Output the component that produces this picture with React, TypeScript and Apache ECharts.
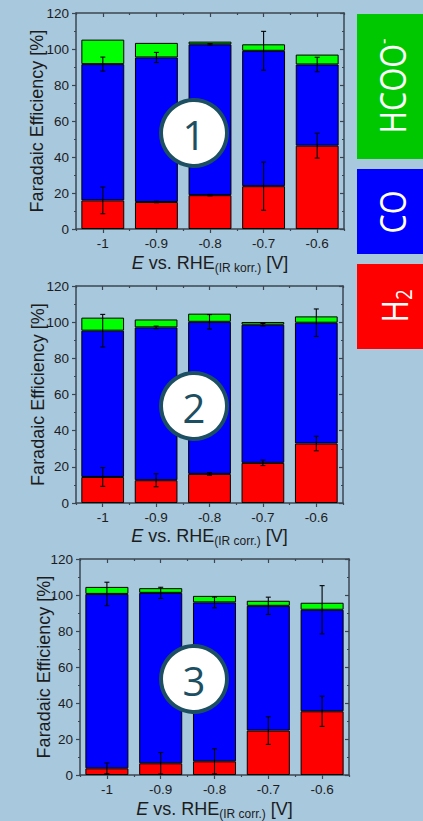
import React, { useEffect, useRef } from "react";
import * as echarts from "echarts";

// Potentials (V vs. RHE) shared by all three panels
const CATEGORIES = ["-1", "-0.9", "-0.8", "-0.7", "-0.6"];

// Panel 1 – Faradaic efficiencies [%]
const H2_1 = [15.9, 15.0, 18.8, 23.8, 46.3];
const CO_1 = [75.7, 80.3, 83.8, 75.2, 45.1];
const HCOO_1 = [13.6, 8.1, 1.5, 3.6, 5.5];
const H2_ERR_1 = [7.4, 0.4, 0.4, 13.4, 6.9];
const CO_ERR_1 = [3.9, 2.8, 0.4, 10.8, 4.0];

// Panel 2
const H2_2 = [14.4, 12.6, 16.1, 22.2, 32.9];
const CO_2 = [80.9, 84.5, 84.1, 76.4, 66.8];
const HCOO_2 = [7.2, 4.4, 4.5, 1.5, 3.5];
const H2_ERR_2 = [5.2, 3.6, 0.7, 1.5, 4.0];
const CO_ERR_2 = [9.0, 0.7, 4.0, 0.7, 7.6];

// Panel 3
const H2_3 = [3.7, 6.5, 7.6, 24.7, 35.4];
const CO_3 = [96.9, 94.7, 88.3, 69.3, 56.4];
const HCOO_3 = [3.9, 2.6, 3.6, 2.8, 3.9];
const H2_ERR_3 = [3.0, 6.0, 7.0, 7.7, 8.4];
const CO_ERR_3 = [6.5, 3.1, 3.0, 4.8, 13.4];

const Y_TICKS = { min: 0, max: 120, interval: 20 };
const X_SUBSCRIPTS = ["(IR korr.)", "(IR corr.)", "(IR corr.)"];
const PANEL_NUMBERS = ["1", "2", "3"];

const PANELS = [
  { h2: H2_1, co: CO_1, hcoo: HCOO_1, h2Err: H2_ERR_1, coErr: CO_ERR_1 },
  { h2: H2_2, co: CO_2, hcoo: HCOO_2, h2Err: H2_ERR_2, coErr: CO_ERR_2 },
  { h2: H2_3, co: CO_3, hcoo: HCOO_3, h2Err: H2_ERR_3, coErr: CO_ERR_3 },
];

const GRIDS = [
  { left: 76, top: 13, width: 268, height: 216 },
  { left: 76, top: 286, width: 267, height: 217 },
  { left: 80, top: 559, width: 269, height: 217 },
];
const Y_NAME_GAPS = [30, 29, 27];
const X_NAME_GAPS = [23, 22, 23];
const CIRCLES = [
  { cx: 194, cy: 133 },
  { cx: 194, cy: 406 },
  { cx: 194, cy: 679 },
];

const BG = "#a8c8dd";
const FRAME = "#3c4650";
const TEXT = "#1c1c1c";
const BADGE = "#1d4f62";
const FONT = "'Liberation Sans', Arial, sans-serif";

export default function App() {
  const ref = useRef<HTMLDivElement>(null);

  useEffect(() => {
    if (!ref.current) return;
    const chart = echarts.init(ref.current, undefined, { renderer: "svg" });

    const xAxis: any[] = [];
    const yAxis: any[] = [];
    const series: any[] = [];
    const graphic: any[] = [];

    PANELS.forEach((p, g) => {
      const base = xAxis.length;
      // bottom axis: labels + ticks at category centres
      xAxis.push({
        type: "category",
        gridIndex: g,
        data: CATEGORIES,
        position: "bottom",
        axisLine: { show: true, lineStyle: { color: FRAME, width: 1.5 } },
        axisTick: { show: true, alignWithLabel: true, length: 4, lineStyle: { color: FRAME, width: 1.2 } },
        axisLabel: { color: TEXT, fontSize: 13.5, fontFamily: FONT, margin: 7 },
        splitLine: { show: false },
        name: `{i|E} vs. RHE{s|${X_SUBSCRIPTS[g]}} [V]`,
        nameLocation: "middle",
        nameGap: X_NAME_GAPS[g],
        nameMoveOverlap: false,
        nameTextStyle: {
          color: TEXT,
          fontSize: 18,
          fontFamily: FONT,
          rich: {
            i: { fontStyle: "italic", fontSize: 18, color: TEXT, fontFamily: FONT },
            s: { fontSize: 12, color: TEXT, fontFamily: FONT, padding: [10, 0, 0, 0] },
          },
        },
      });
      // bottom axis: short ticks at category boundaries
      xAxis.push({
        type: "category",
        gridIndex: g,
        data: CATEGORIES,
        position: "bottom",
        axisLine: { show: false },
        axisTick: { show: true, length: 2, lineStyle: { color: FRAME, width: 1.2 } },
        axisLabel: { show: false },
        splitLine: { show: false },
      });
      // top frame with inward ticks
      xAxis.push({
        type: "category",
        gridIndex: g,
        data: CATEGORIES,
        position: "top",
        axisLine: { show: true, lineStyle: { color: FRAME, width: 1.5 } },
        axisTick: { show: true, inside: true, alignWithLabel: true, length: 4, lineStyle: { color: FRAME, width: 1.2 } },
        axisLabel: { show: false },
        splitLine: { show: false },
      });
      xAxis.push({
        type: "category",
        gridIndex: g,
        data: CATEGORIES,
        position: "top",
        axisLine: { show: false },
        axisTick: { show: true, inside: true, length: 2, lineStyle: { color: FRAME, width: 1.2 } },
        axisLabel: { show: false },
        splitLine: { show: false },
      });

      const yBase = yAxis.length;
      yAxis.push({
        type: "value",
        gridIndex: g,
        position: "left",
        ...Y_TICKS,
        axisLine: { show: true, lineStyle: { color: FRAME, width: 1.5 } },
        axisTick: { show: true, length: 4, lineStyle: { color: FRAME, width: 1.2 } },
        minorTick: { show: true, splitNumber: 2, length: 2, lineStyle: { color: FRAME, width: 1.2 } },
        axisLabel: { color: TEXT, fontSize: 13.5, fontFamily: FONT, margin: 7 },
        splitLine: { show: false },
        name: "Faradaic Efficiency [%]",
        nameLocation: "middle",
        nameGap: Y_NAME_GAPS[g],
        nameMoveOverlap: false,
        nameTextStyle: { color: TEXT, fontSize: 18, fontFamily: FONT },
      });
      yAxis.push({
        type: "value",
        gridIndex: g,
        position: "right",
        ...Y_TICKS,
        axisLine: { show: true, lineStyle: { color: FRAME, width: 1.5 } },
        axisTick: { show: true, inside: true, length: 4, lineStyle: { color: FRAME, width: 1.2 } },
        minorTick: { show: true, splitNumber: 2, length: 2, lineStyle: { color: FRAME, width: 1.2 } },
        axisLabel: { show: false },
        splitLine: { show: false },
      });

      const barCommon = {
        type: "bar",
        xAxisIndex: base,
        yAxisIndex: yBase,
        stack: "fe" + g,
        barWidth: "80%",
      };
      series.push({
        ...barCommon,
        name: "H2",
        data: p.h2,
        itemStyle: { color: "#ff0000", borderColor: "#000", borderWidth: 1 },
      });
      series.push({
        ...barCommon,
        name: "CO",
        data: p.co,
        itemStyle: { color: "#0000ff", borderColor: "#000", borderWidth: 1 },
      });
      series.push({
        ...barCommon,
        name: "HCOO-",
        data: p.hcoo,
        itemStyle: { color: "#00ff00", borderColor: "#000", borderWidth: 1 },
      });

      // error bars at the top of the H2 and CO segments
      const errData: number[][] = [];
      CATEGORIES.forEach((_, i) => {
        errData.push([i, p.h2[i], p.h2Err[i]]);
        errData.push([i, p.h2[i] + p.co[i], p.coErr[i]]);
      });
      series.push({
        type: "custom",
        name: "err" + g,
        xAxisIndex: base,
        yAxisIndex: yBase,
        data: errData,
        encode: { x: 0, y: 1 },
        z: 10,
        renderItem: (params: any, api: any) => {
          const x = api.value(0);
          const v = api.value(1);
          const e = api.value(2);
          const hi = api.coord([x, v + e]);
          const lo = api.coord([x, v - e]);
          const hw = 2.5;
          const st = { stroke: "#000", lineWidth: 1.1 };
          return {
            type: "group",
            children: [
              { type: "line", shape: { x1: hi[0], y1: hi[1], x2: lo[0], y2: lo[1] }, style: st },
              { type: "line", shape: { x1: hi[0] - hw, y1: hi[1], x2: hi[0] + hw, y2: hi[1] }, style: st },
              { type: "line", shape: { x1: lo[0] - hw, y1: lo[1], x2: lo[0] + hw, y2: lo[1] }, style: st },
            ],
          };
        },
      });

      // numbered badge
      graphic.push({
        type: "circle",
        z: 100,
        shape: { cx: CIRCLES[g].cx, cy: CIRCLES[g].cy, r: 33 },
        style: { fill: "#ffffff", stroke: BADGE, lineWidth: 4 },
      });
      graphic.push({
        type: "text",
        z: 101,
        x: CIRCLES[g].cx,
        y: CIRCLES[g].cy + 1,
        style: {
          text: PANEL_NUMBERS[g],
          fill: BADGE,
          fontSize: 40,
          fontFamily: "'Open Sans', 'Noto Sans', sans-serif",
          align: "center",
          verticalAlign: "middle",
        },
      });
    });

    // product key on the right
    const keyFont = "'Open Sans', 'Noto Sans', sans-serif";
    graphic.push(
      { type: "rect", z: 50, shape: { x: 357, y: 14, width: 70, height: 145 }, style: { fill: "#00c800" } },
      { type: "rect", z: 50, shape: { x: 357, y: 169, width: 70, height: 85 }, style: { fill: "#0000ff" } },
      { type: "rect", z: 50, shape: { x: 357, y: 264, width: 70, height: 85 }, style: { fill: "#ff0000" } },
      {
        type: "text",
        z: 51,
        x: 392,
        y: 86,
        rotation: Math.PI / 2,
        scaleX: 0.85,
        style: {
          text: "{a|HCOO}{b|-}",
          align: "center",
          verticalAlign: "middle",
          rich: {
            a: { fontSize: 36, fill: "#fff", fontFamily: keyFont },
            b: { fontSize: 20, fill: "#fff", fontFamily: keyFont, padding: [0, 0, 20, 0] },
          },
        },
      },
      {
        type: "text",
        z: 51,
        x: 392,
        y: 212,
        rotation: Math.PI / 2,
        scaleX: 0.85,
        style: {
          text: "CO",
          fill: "#fff",
          fontSize: 36,
          fontFamily: keyFont,
          align: "center",
          verticalAlign: "middle",
        },
      },
      {
        type: "text",
        z: 51,
        x: 394,
        y: 306,
        rotation: Math.PI / 2,
        scaleX: 0.85,
        style: {
          text: "{a|H}{b|2}",
          align: "center",
          verticalAlign: "middle",
          rich: {
            a: { fontSize: 36, fill: "#fff", fontFamily: keyFont },
            b: { fontSize: 22, fill: "#fff", fontFamily: keyFont, padding: [18, 0, 0, 0] },
          },
        },
      }
    );

    chart.setOption({
      animation: false,
      backgroundColor: BG,
      grid: GRIDS.map((g) => ({ ...g, containLabel: false })),
      xAxis,
      yAxis,
      series,
      graphic,
    });

    return () => chart.dispose();
  }, []);

  return (
    <div
      style={{ position: "fixed", left: 0, top: 0, width: 423, height: 821, background: BG }}
    >
      <div ref={ref} style={{ width: 423, height: 821 }} />
    </div>
  );
}
